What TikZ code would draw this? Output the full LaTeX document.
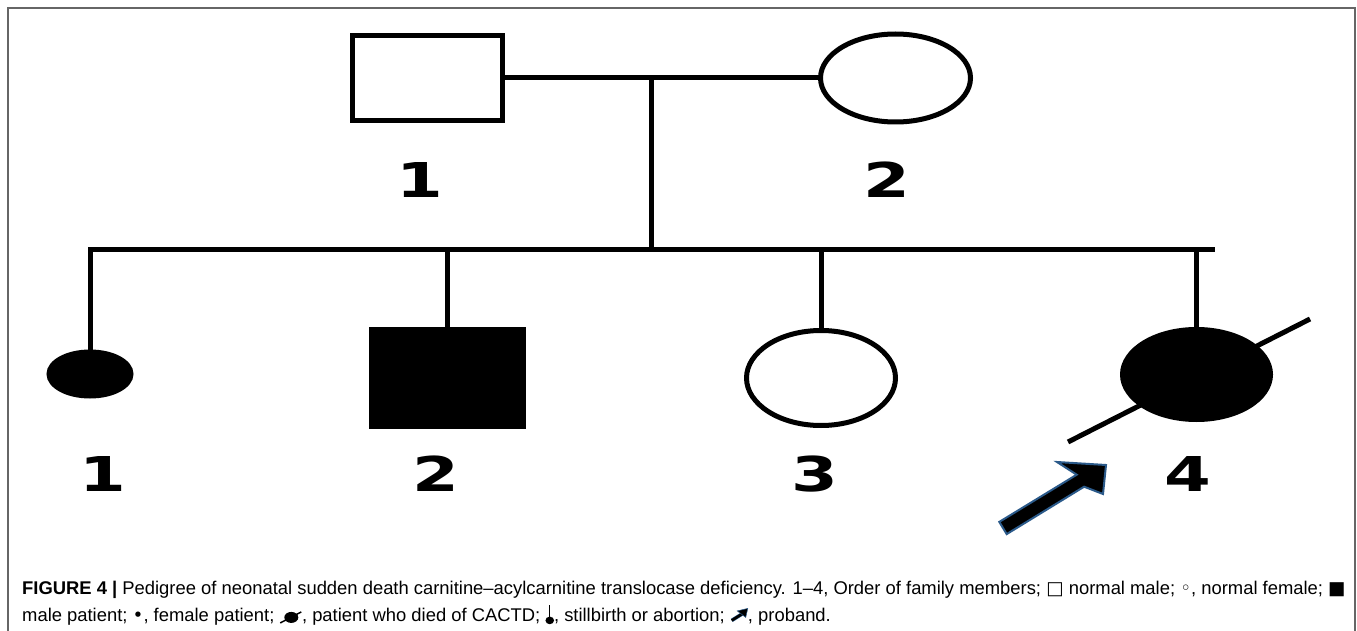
\documentclass[tikz,border=0pt]{standalone}
\usepackage{fontspec}
\setmainfont{Liberation Sans}
\newfontfamily\digitfont{DejaVu Sans}
\newfontfamily\symfont{DejaVu Sans}
\usetikzlibrary{shapes.geometric}
\definecolor{framegray}{HTML}{666666}
\definecolor{arrowblue}{HTML}{2B5A8A}
\newcommand{\symDied}{\tikz[baseline=-4pt,x=1pt,y=1pt]{\fill[black] (0,0) ellipse (7pt and 5.5pt); \draw[black,line width=1.5pt] (-11,-5.5) -- (10,5.5);}}
\newcommand{\symStill}{\tikz[baseline=-2pt,x=1pt,y=1pt]{\draw[black,line width=1.3pt] (0,14) -- (0,0); \fill[black] (0,-1) ellipse (4.3pt and 3.8pt);}}
\newcommand{\symProband}{\tikz[baseline=-1pt,x=1pt,y=1pt]{\draw[arrowblue,line width=3.6pt] (0,0) -- (12,7.5); \draw[black,line width=2.6pt] (0,0) -- (12,7.5); \fill[black,draw=arrowblue,line width=0.5pt] (16,12) -- (5.5,9.5) -- (14,3) -- cycle;}}
\newcommand{\digit}[1]{\scalebox{1.4}[1]{\bfseries #1}}
\begin{document}
\begin{tikzpicture}[x=1pt,y=-1pt,
  person/.style={draw=black, line width=5pt, inner sep=0pt, outer sep=0pt},
  male/.style={person, rectangle},
  female/.style={person, ellipse},
  affected/.style={fill=black},
  lbl/.style={font=\digitfont\fontsize{48}{48}\selectfont, inner sep=0pt, text=black},
  rel/.style={draw=black, line width=5pt},
  captxt/.style={anchor=west, inner sep=0pt, font=\fontsize{18.4}{22}\selectfont}]
\useasboundingbox (0,0) rectangle (1357,631);
\fill[white] (0,0) rectangle (1357,631);
% frame
\draw[framegray, line width=2pt] (8,631) -- (8,8) -- (1355,8) -- (1355,631);

% generation I
\node[male, minimum width=150pt, minimum height=85pt] (p1) at (427.5,78) {};
\node[female, minimum width=150pt, minimum height=88pt] (p2) at (895.5,78) {};
\node[lbl] (l1) at (420,180) {\digit{1}};
\node[lbl] (l2) at (887,180) {\digit{2}};

% generation II
\node[female, affected, minimum width=82pt, minimum height=44pt] (c1) at (90,374) {};
\node[male, affected, minimum width=152pt, minimum height=97pt] (c2) at (447.5,378) {};
\node[female, minimum width=149pt, minimum height=95pt] (c3) at (821,378) {};
\draw[rel] (1068,442) coordinate (slashA) -- (1310,319) coordinate (slashB);
\node[female, affected, minimum width=148pt, minimum height=90pt] (c4) at (1196.5,374.5) {};
\node[lbl] (m1) at (103,474) {\digit{1}};
\node[lbl] (m2) at (436,474) {\digit{2}};
\node[lbl] (m3) at (815,474) {\digit{3}};
\node[lbl] (m4) at (1188,474) {\digit{4}};

% connectors
\coordinate (mate) at (651,78);
\coordinate (sibM) at (651,249);
\coordinate (sibR) at (1215,249);
\draw[rel] (p1.east) -- (p2.west);
\draw[rel] (mate) -- (sibM);
\draw[rel] (c1.north) |- (sibR);
\draw[rel] (c2.north) -- (c2.north |- sibM);
\draw[rel] (c3.north) -- (c3.north |- sibM);
\draw[rel] (c4.north) -- (c4.north |- sibM);

% proband arrow
\coordinate (arrTail) at (1003,528);
\coordinate (arrTip) at (1106,465);
\fill[black, draw=arrowblue, line width=2pt, line join=miter]
  (999.3,521.9) -- (1076.7,474.7) -- (1057,462) -- (arrTip) -- (1103,494) -- (1084.1,486.7) -- (1006.7,534.1) -- cycle;

% caption
\node[captxt] (cap1) at (22,590) {\textbf{FIGURE 4 |} Pedigree of neonatal sudden death carnitine--acylcarnitine translocase deficiency. 1--4, Order of family members; {\symfont □} normal male; {\symfont ◦}, normal female; {\symfont ■}};
\node[captxt] (cap2) at (22,615) {male patient; {\symfont •}, female patient; \symDied, patient who died of CACTD; \symStill, stillbirth or abortion; \symProband, proband.};
\end{tikzpicture}
\end{document}
